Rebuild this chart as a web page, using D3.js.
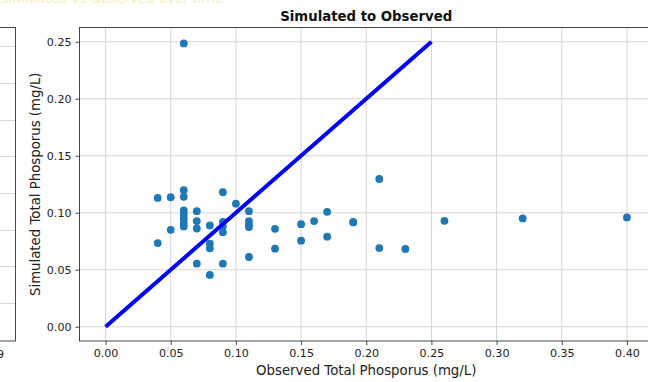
<!DOCTYPE html>
<html>
<head>
<meta charset="utf-8">
<script src="https://cdn.jsdelivr.net/npm/d3@7"></script>
<style>
  html, body { margin: 0; padding: 0; background: #fff; }
  svg { display: block; font-family: "DejaVu Sans", sans-serif; }
</style>
</head>
<body>
<svg id="chart" width="648" height="382"></svg>
<script>
// ---- data ----
const observed = [
  0.06,
  0.04, 0.04,
  0.05, 0.05,
  0.06, 0.06, 0.06, 0.06, 0.06, 0.06, 0.06,
  0.07, 0.07, 0.07, 0.07,
  0.08, 0.08, 0.08, 0.08,
  0.09, 0.09, 0.09, 0.09, 0.09,
  0.10,
  0.11, 0.11, 0.11, 0.11, 0.11,
  0.13, 0.13,
  0.15, 0.15,
  0.16,
  0.17, 0.17,
  0.19, 0.19,
  0.21, 0.21,
  0.23,
  0.26,
  0.32,
  0.40
];
const simulated = [
  0.2485,
  0.113, 0.0734,
  0.1136, 0.085,
  0.1198, 0.114, 0.102, 0.0985, 0.095, 0.091, 0.088,
  0.1014, 0.0927, 0.0862, 0.0553,
  0.0889, 0.0728, 0.0688, 0.0455,
  0.118, 0.092, 0.088, 0.083, 0.0553,
  0.108,
  0.1014, 0.0927, 0.0898, 0.0874, 0.0612,
  0.0859, 0.0685,
  0.090, 0.0755,
  0.0927,
  0.1008, 0.079,
  0.092, 0.0915,
  0.1296, 0.069,
  0.0682,
  0.0929,
  0.095,
  0.0959
];
const oneToOne = [0, 0.25];
const xTicks = [0, 0.05, 0.10, 0.15, 0.20, 0.25, 0.30, 0.35, 0.40];
const yTicks = [0, 0.05, 0.10, 0.15, 0.20, 0.25];
const leftPanelTicks = [0, 1, 2, 3, 4, 5, 6, 7];

const title = "Simulated to Observed";
const xLabel = "Observed Total Phosporus (mg/L)";
const yLabel = "Simulated Total Phosporus (mg/L)";

// ---- layout ----
const svg = d3.select("#chart");
const L = 79.5, R = 653, T = 27.5, B = 341;

const x = d3.scaleLinear().domain([-0.02, 0.42]).range([L, R]);
const y = d3.scaleLinear().domain([-0.0125, 0.2625]).range([B, T]);

const gridColor = "#cfcfcf";
const tickFont = 11.1, labelFont = 13.3;

// ---- partial left panel (cropped neighbour subplot) ----
const yLeft = d3.scaleLinear().domain([-1.044, 7.518]).range([B, T]);
const leftG = svg.append("g");
leftG.selectAll("line.lg").data(leftPanelTicks).join("line")
  .attr("x1", -10).attr("x2", 15.5)
  .attr("y1", d => Math.round(yLeft(d)) + 0.5).attr("y2", d => Math.round(yLeft(d)) + 0.5)
  .attr("stroke", gridColor).attr("stroke-width", 0.8);
leftG.append("rect").attr("x", -20).attr("y", T).attr("width", 35.5).attr("height", B - T)
  .attr("fill", "none").attr("stroke", "#333").attr("stroke-width", 0.9);
leftG.append("text").attr("x", 4).attr("y", 358).attr("text-anchor", "end")
  .attr("font-size", tickFont).attr("fill", "#222").text("2019");
leftG.append("text").attr("x", 0).attr("y", 3).attr("font-size", labelFont)
  .attr("fill", "#f6eebb").text("Simulated vs Observed over time");

// ---- main axes ----
const clipId = "plotclip";
svg.append("defs").append("clipPath").attr("id", clipId)
  .append("rect").attr("x", L).attr("y", T).attr("width", R - L).attr("height", B - T);

const grid = svg.append("g").attr("clip-path", `url(#${clipId})`);
grid.selectAll("line.gx").data(xTicks).join("line")
  .attr("x1", d => x(d)).attr("x2", d => x(d)).attr("y1", T).attr("y2", B)
  .attr("stroke", gridColor).attr("stroke-width", 0.9);
grid.selectAll("line.gy").data(yTicks).join("line")
  .attr("x1", L).attr("x2", R).attr("y1", d => y(d)).attr("y2", d => y(d))
  .attr("stroke", gridColor).attr("stroke-width", 0.9);

const plot = svg.append("g").attr("clip-path", `url(#${clipId})`);
plot.selectAll("circle").data(observed.map((o, i) => [o, simulated[i]])).join("circle")
  .attr("cx", d => x(d[0])).attr("cy", d => y(d[1])).attr("r", 3.9)
  .attr("fill", "#1f77b4");

plot.append("path")
  .datum(oneToOne.map(v => [v, v]))
  .attr("d", d3.line().x(d => x(d[0])).y(d => y(d[1])))
  .attr("stroke", "#0000ff").attr("stroke-width", 4).attr("fill", "none")
  .attr("stroke-linecap", "butt");

// spines
svg.append("rect").attr("x", L).attr("y", T).attr("width", R - L).attr("height", B - T)
  .attr("fill", "none").attr("stroke", "#333").attr("stroke-width", 0.9);

// axes
const xAxis = d3.axisBottom(x).tickValues(xTicks).tickFormat(d3.format(".2f"))
  .tickSize(4).tickPadding(4);
const yAxis = d3.axisLeft(y).tickValues(yTicks).tickFormat(d3.format(".2f"))
  .tickSize(4).tickPadding(4);

const gx = svg.append("g").attr("transform", `translate(0,${B})`).call(xAxis);
const gy = svg.append("g").attr("transform", `translate(${L},0)`).call(yAxis);
[gx, gy].forEach(g => {
  g.select(".domain").remove();
  g.selectAll(".tick line").attr("stroke", "#333").attr("stroke-width", 0.9);
  g.selectAll(".tick text").attr("font-size", tickFont).attr("fill", "#222")
    .attr("font-family", "DejaVu Sans, sans-serif");
});

// labels
svg.append("text").attr("x", (L + R) / 2).attr("y", 21).attr("text-anchor", "middle")
  .attr("font-size", labelFont).attr("font-weight", "bold").attr("fill", "#111").text(title);
svg.append("text").attr("x", (L + R) / 2).attr("y", 375).attr("text-anchor", "middle")
  .attr("font-size", labelFont).attr("fill", "#222").text(xLabel);
svg.append("text").attr("transform", `translate(40,${(T + B) / 2}) rotate(-90)`)
  .attr("text-anchor", "middle").attr("font-size", labelFont).attr("fill", "#222").text(yLabel);
</script>
</body>
</html>
